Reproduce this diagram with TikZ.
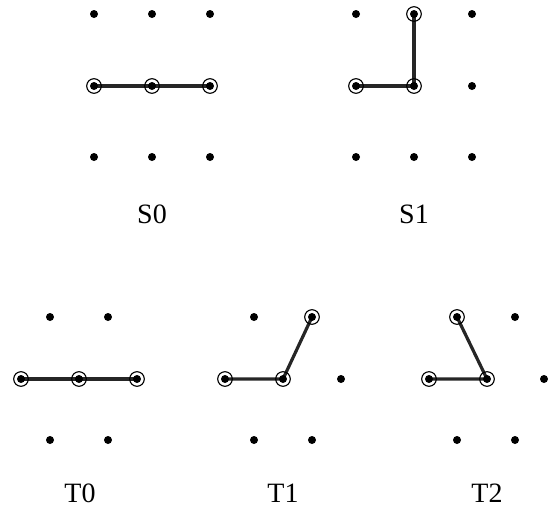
\documentclass[tikz,border=0pt]{standalone}
\usepackage{fontspec}
\setmainfont{Liberation Serif}
\begin{document}
\begin{tikzpicture}[x=1pt,y=-1pt,
  dot/.style={circle,fill=black,inner sep=0pt,minimum size=8pt},
  ring/.style={dot,append after command={\pgfextra{\draw[line width=1.1pt] (\tikzlastnode.center) circle (7.3pt);}}},
  bond/.style={line width=3.2pt,draw=black!85},
  lbl/.style={font=\fontsize{28}{32}\selectfont,inner sep=0pt}]
\useasboundingbox (0,0) rectangle (552,507);
% S0
\foreach \x/\n in {94/a,152/b,210/c}{
  \node[dot] (s0t\n) at (\x,14) {};
  \node[dot] (s0b\n) at (\x,157) {};
}
\coordinate (s0p1) at (94,86);
\coordinate (s0p3) at (210,86);
\draw[bond] (s0p1) -- (s0p3);
\node[ring] (s0m1) at (94,86) {};
\node[ring] (s0m2) at (152,86) {};
\node[ring] (s0m3) at (210,86) {};
\node[lbl] (s0l) at (152,214) {S0};
% S1
\node[dot] (s1ta) at (356,14) {};
\node[dot] (s1tc) at (472,14) {};
\node[dot] (s1mc) at (472,86) {};
\foreach \x/\n in {356/a,414/b,472/c}{
  \node[dot] (s1b\n) at (\x,157) {};
}
\coordinate (s1p1) at (356,86);
\coordinate (s1p2) at (414,86);
\coordinate (s1p3) at (414,14);
\draw[bond,line join=round] (s1p1) -- (s1p2) -- (s1p3);
\node[ring] (s1r1) at (s1p1) {};
\node[ring] (s1r2) at (s1p2) {};
\node[ring] (s1r3) at (s1p3) {};
\node[lbl] (s1l) at (414,214) {S1};
% T0
\node[dot] (t0ta) at (50,317) {};
\node[dot] (t0tb) at (108,317) {};
\node[dot] (t0ba) at (50,440) {};
\node[dot] (t0bb) at (108,440) {};
\coordinate (t0p1) at (21,379);
\coordinate (t0p3) at (137,379);
\draw[bond] (t0p1) -- (t0p3);
\node[ring] (t0r1) at (21,379) {};
\node[ring] (t0r2) at (79,379) {};
\node[ring] (t0r3) at (137,379) {};
\node[lbl] (t0l) at (80,493) {T0};
% T1
\node[dot] (t1ta) at (254,317) {};
\node[dot] (t1mc) at (341,379) {};
\node[dot] (t1ba) at (254,440) {};
\node[dot] (t1bb) at (312,440) {};
\coordinate (t1p1) at (225,379);
\coordinate (t1p2) at (283,379);
\coordinate (t1p3) at (312,317);
\draw[bond,line join=round] (t1p1) -- (t1p2) -- (t1p3);
\node[ring] (t1r1) at (t1p1) {};
\node[ring] (t1r2) at (t1p2) {};
\node[ring] (t1r3) at (t1p3) {};
\node[lbl] (t1l) at (283,493) {T1};
% T2
\node[dot] (t2tb) at (515,317) {};
\node[dot] (t2mc) at (544,379) {};
\node[dot] (t2ba) at (457,440) {};
\node[dot] (t2bb) at (515,440) {};
\coordinate (t2p1) at (429,379);
\coordinate (t2p2) at (487,379);
\coordinate (t2p3) at (457,317);
\draw[bond,line join=round] (t2p1) -- (t2p2) -- (t2p3);
\node[ring] (t2r1) at (t2p1) {};
\node[ring] (t2r2) at (t2p2) {};
\node[ring] (t2r3) at (t2p3) {};
\node[lbl] (t2l) at (487,493) {T2};
\end{tikzpicture}
\end{document}
